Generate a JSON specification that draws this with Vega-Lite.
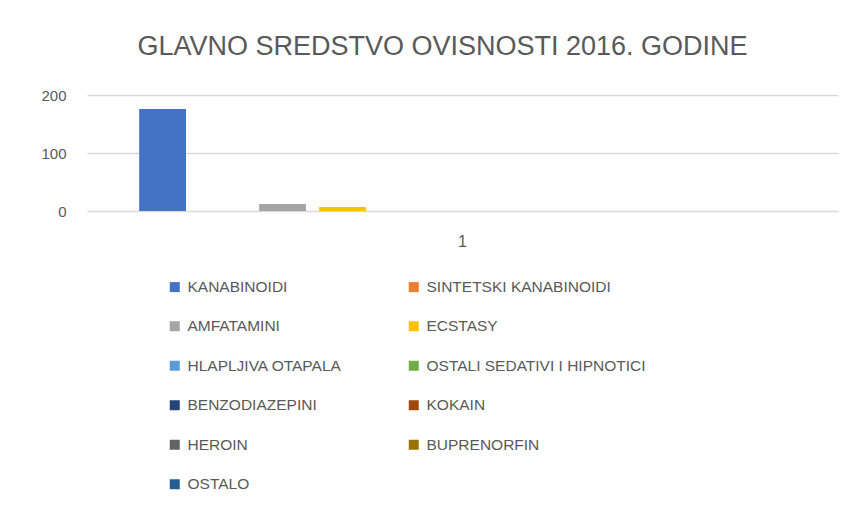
{
  "$schema": "https://vega.github.io/schema/vega-lite/v6.json",
  "autosize": {"type": "none"},
  "width": 751,
  "height": 116,
  "padding": {"left": 87, "top": 95, "right": 22, "bottom": 298},
  "background": "white",
  "config": {
    "view": {"stroke": null},
    "font": "Liberation Sans Narrow, Liberation Sans, sans-serif"
  },
  "title": {
    "text": "GLAVNO SREDSTVO OVISNOSTI 2016. GODINE",
    "fontSize": 27,
    "fontWeight": "normal",
    "color": "#595959",
    "anchor": "middle",
    "baseline": "alphabetic",
    "offset": 6,
    "dx": -20
  },
  "data": {
    "values": [
      {"kategorija": "1", "sredstvo": "KANABINOIDI", "broj": 176},
      {"kategorija": "1", "sredstvo": "SINTETSKI KANABINOIDI", "broj": 0},
      {"kategorija": "1", "sredstvo": "AMFATAMINI", "broj": 12},
      {"kategorija": "1", "sredstvo": "ECSTASY", "broj": 7},
      {"kategorija": "1", "sredstvo": "HLAPLJIVA OTAPALA", "broj": 0},
      {"kategorija": "1", "sredstvo": "OSTALI SEDATIVI I HIPNOTICI", "broj": 0},
      {"kategorija": "1", "sredstvo": "BENZODIAZEPINI", "broj": 0},
      {"kategorija": "1", "sredstvo": "KOKAIN", "broj": 0},
      {"kategorija": "1", "sredstvo": "HEROIN", "broj": 0},
      {"kategorija": "1", "sredstvo": "BUPRENORFIN", "broj": 0},
      {"kategorija": "1", "sredstvo": "OSTALO", "broj": 0}
    ]
  },
  "mark": {"type": "bar"},
  "encoding": {
    "x": {
      "field": "kategorija",
      "type": "nominal",
      "scale": {"paddingInner": 0, "paddingOuter": 0},
      "axis": {
        "title": null,
        "labelAngle": 0,
        "domain": false,
        "ticks": false,
        "labelPadding": 22,
        "labelFontSize": 16,
        "labelColor": "#595959"
      }
    },
    "xOffset": {
      "field": "sredstvo",
      "type": "nominal",
      "sort": null,
      "scale": {"paddingInner": 0.22, "paddingOuter": 0.87}
    },
    "y": {
      "field": "broj",
      "type": "quantitative",
      "scale": {"domain": [0, 200], "nice": false},
      "axis": {
        "title": null,
        "values": [0, 100, 200],
        "domain": false,
        "ticks": false,
        "labelPadding": 21,
        "labelFontSize": 15,
        "labelColor": "#595959",
        "gridColor": "#d9d9d9",
        "gridWidth": 1.5
      }
    },
    "color": {
      "field": "sredstvo",
      "type": "nominal",
      "scale": {
        "domain": ["KANABINOIDI", "SINTETSKI KANABINOIDI", "AMFATAMINI", "ECSTASY", "HLAPLJIVA OTAPALA", "OSTALI SEDATIVI I HIPNOTICI", "BENZODIAZEPINI", "KOKAIN", "HEROIN", "BUPRENORFIN", "OSTALO"],
        "range": ["#4472C4", "#ED7D31", "#A5A5A5", "#FFC000", "#5B9BD5", "#70AD47", "#264478", "#9E480E", "#636363", "#997300", "#255E91"]
      },
      "legend": {
        "title": null,
        "orient": "none",
        "direction": "horizontal",
        "legendX": 80,
        "legendY": 184,
        "columns": 2,
        "columnPadding": 64,
        "rowPadding": 22.5,
        "symbolType": "square",
        "symbolSize": 100,
        "symbolStrokeWidth": 0,
        "labelFontSize": 15.5,
        "labelColor": "#595959",
        "labelOffset": 5,
        "labelLimit": 400,
        "padding": 0
      }
    }
  }
}
